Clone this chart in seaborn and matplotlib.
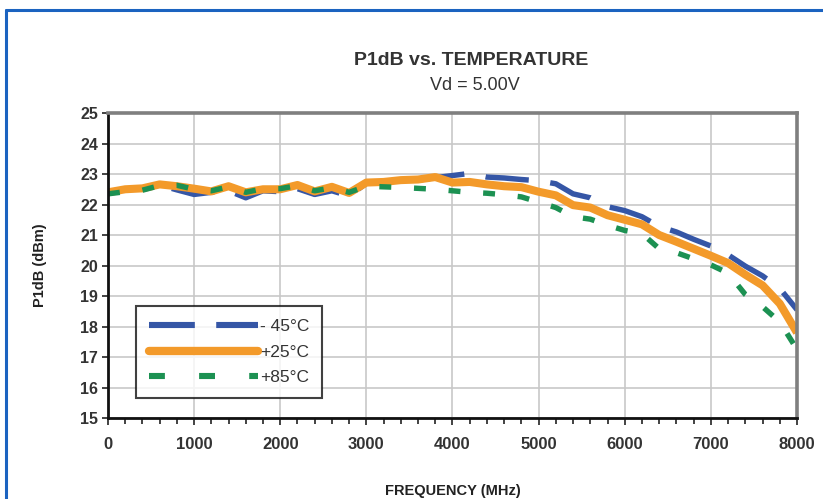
import matplotlib
matplotlib.use("Agg")
import matplotlib.pyplot as plt
from matplotlib.lines import Line2D
from matplotlib.ticker import MultipleLocator
import pandas as pd
import seaborn as sns

# data (MHz, dBm)
freq_mhz = [0, 200, 400, 600, 800, 1000, 1200, 1400, 1600, 1800,
            2000, 2200, 2400, 2600, 2800, 3000, 3200, 3400, 3600, 3800,
            4000, 4200, 4400, 4600, 4800, 5000, 5200, 5400, 5600, 5800,
            6000, 6200, 6400, 6600, 6800, 7000, 7200, 7400, 7600, 7800, 8000]

p1db_m45 = [22.40, 22.50, 22.52, 22.64, 22.48, 22.33, 22.40, 22.45, 22.22, 22.45,
            22.42, 22.52, 22.33, 22.45, 22.28, 22.70, 22.73, 22.78, 22.80, 22.88,
            22.95, 23.02, 22.90, 22.87, 22.82, 22.78, 22.68, 22.35, 22.22, 21.93,
            21.80, 21.60, 21.28, 21.10, 20.86, 20.64, 20.35, 19.98, 19.66, 19.25, 18.55]

p1db_p25 = [22.40, 22.50, 22.53, 22.66, 22.60, 22.52, 22.43, 22.60, 22.40, 22.50,
            22.50, 22.64, 22.43, 22.58, 22.38, 22.72, 22.74, 22.80, 22.82, 22.90,
            22.72, 22.74, 22.66, 22.60, 22.57, 22.42, 22.30, 21.98, 21.90, 21.65,
            21.50, 21.35, 21.00, 20.78, 20.55, 20.32, 20.08, 19.70, 19.35, 18.75, 17.80]

p1db_p85 = [22.35, 22.42, 22.47, 22.62, 22.63, 22.50, 22.45, 22.58, 22.40, 22.52,
            22.52, 22.62, 22.45, 22.55, 22.40, 22.60, 22.58, 22.56, 22.53, 22.50,
            22.45, 22.40, 22.37, 22.32, 22.25, 22.08, 21.90, 21.60, 21.52, 21.32,
            21.15, 21.05, 20.55, 20.42, 20.22, 20.02, 19.75, 19.05, 18.65, 18.15, 17.25]

labels = ["- 45°C", "+25°C", "+85°C"]
colors = ["#3556a6", "#f39a2a", "#1c9152"]

df = pd.DataFrame({"freq": freq_mhz * 3,
                   "p1db": p1db_m45 + p1db_p25 + p1db_p85,
                   "temp": [labels[0]] * len(freq_mhz) + [labels[1]] * len(freq_mhz)
                           + [labels[2]] * len(freq_mhz)})

sns.set_style("white")
plt.rcParams["font.family"] = ["Liberation Sans", "DejaVu Sans"]

fig = plt.figure(figsize=(8.23, 4.99), dpi=100)
ax = fig.add_axes([0.1312, 0.1623, 0.8372, 0.6112])

sns.lineplot(data=df, x="freq", y="p1db", hue="temp", hue_order=labels,
             palette=colors, ax=ax, legend=False, sort=False)

styles = [dict(lw=3.9, dashes=(8, 4)), dict(lw=5.8), dict(lw=3.9, dashes=(2.2, 4.2))]
for line, st in zip(ax.get_lines(), styles):
    line.set_linewidth(st["lw"])
    line.set_solid_capstyle("butt")
    line.set_dash_capstyle("butt")
    if "dashes" in st:
        line.set_dashes(st["dashes"])

ax.set_xlim(0, 8000)
ax.set_ylim(15, 25)
ax.xaxis.set_major_locator(MultipleLocator(1000))
ax.xaxis.set_minor_locator(MultipleLocator(200))
ax.yaxis.set_major_locator(MultipleLocator(1))
ax.grid(True, which="major", color="#c8c8c8", lw=1.2)
ax.set_axisbelow(True)

for side in ["left", "bottom"]:
    ax.spines[side].set_color("#111111")
    ax.spines[side].set_linewidth(2)
for side in ["top", "right"]:
    ax.spines[side].set_color("#7f7f7f")
    ax.spines[side].set_linewidth(2.6)

ax.tick_params(axis="x", which="major", bottom=True, direction="out", length=5,
               width=1.2, color="#222222", labelsize=12, labelcolor="#333333", pad=9)
ax.tick_params(axis="x", which="minor", bottom=True, direction="out", length=4,
               width=1.2, color="#222222")
ax.tick_params(axis="y", which="major", left=True, direction="out", length=4,
               width=1.2, color="#222222", labelsize=11.5, labelcolor="#333333", pad=3)
for t in ax.get_xticklabels() + ax.get_yticklabels():
    t.set_fontweight("bold")

ax.set_xlabel("FREQUENCY (MHz)", fontsize=10.5, fontweight="bold", color="#222222", labelpad=23)
ax.set_ylabel("P1dB (dBm)", fontsize=10.5, fontweight="bold", color="#222222", labelpad=24)

handles = [Line2D([], [], color=colors[0], lw=4.4, dashes=(7.5, 3.5)),
           Line2D([], [], color=colors[1], lw=6, solid_capstyle="round"),
           Line2D([], [], color=colors[2], lw=4.4, dashes=(2.6, 5.6))]
for h in handles:
    h.set_dash_capstyle("butt")
leg = ax.legend(handles, labels, loc="lower left", bbox_to_anchor=(0.04, 0.065),
                borderaxespad=0, handlelength=6.3, handletextpad=0.1, fontsize=12.5,
                frameon=True, fancybox=False, borderpad=0.75, labelspacing=0.6,
                labelcolor="#333333")
leg.get_frame().set_edgecolor("#111111")
leg.get_frame().set_linewidth(1.5)

fig.text(0.572, 0.878, "P1dB vs. TEMPERATURE", ha="center", va="center",
         fontsize=14, fontweight="bold", color="#333333")
fig.text(0.577, 0.829, "Vd = 5.00V", ha="center", va="center",
         fontsize=13, color="#333333")

# blue outer frame (left and top edges)
fig.add_artist(Line2D([0.0067, 0.0067], [0.0, 0.98], transform=fig.transFigure,
                      color="#1b63c0", lw=2.2))
fig.add_artist(Line2D([0.0067, 1.0], [0.98, 0.98], transform=fig.transFigure,
                      color="#1b63c0", lw=2.2))

fig.savefig("out.png", dpi=100)
